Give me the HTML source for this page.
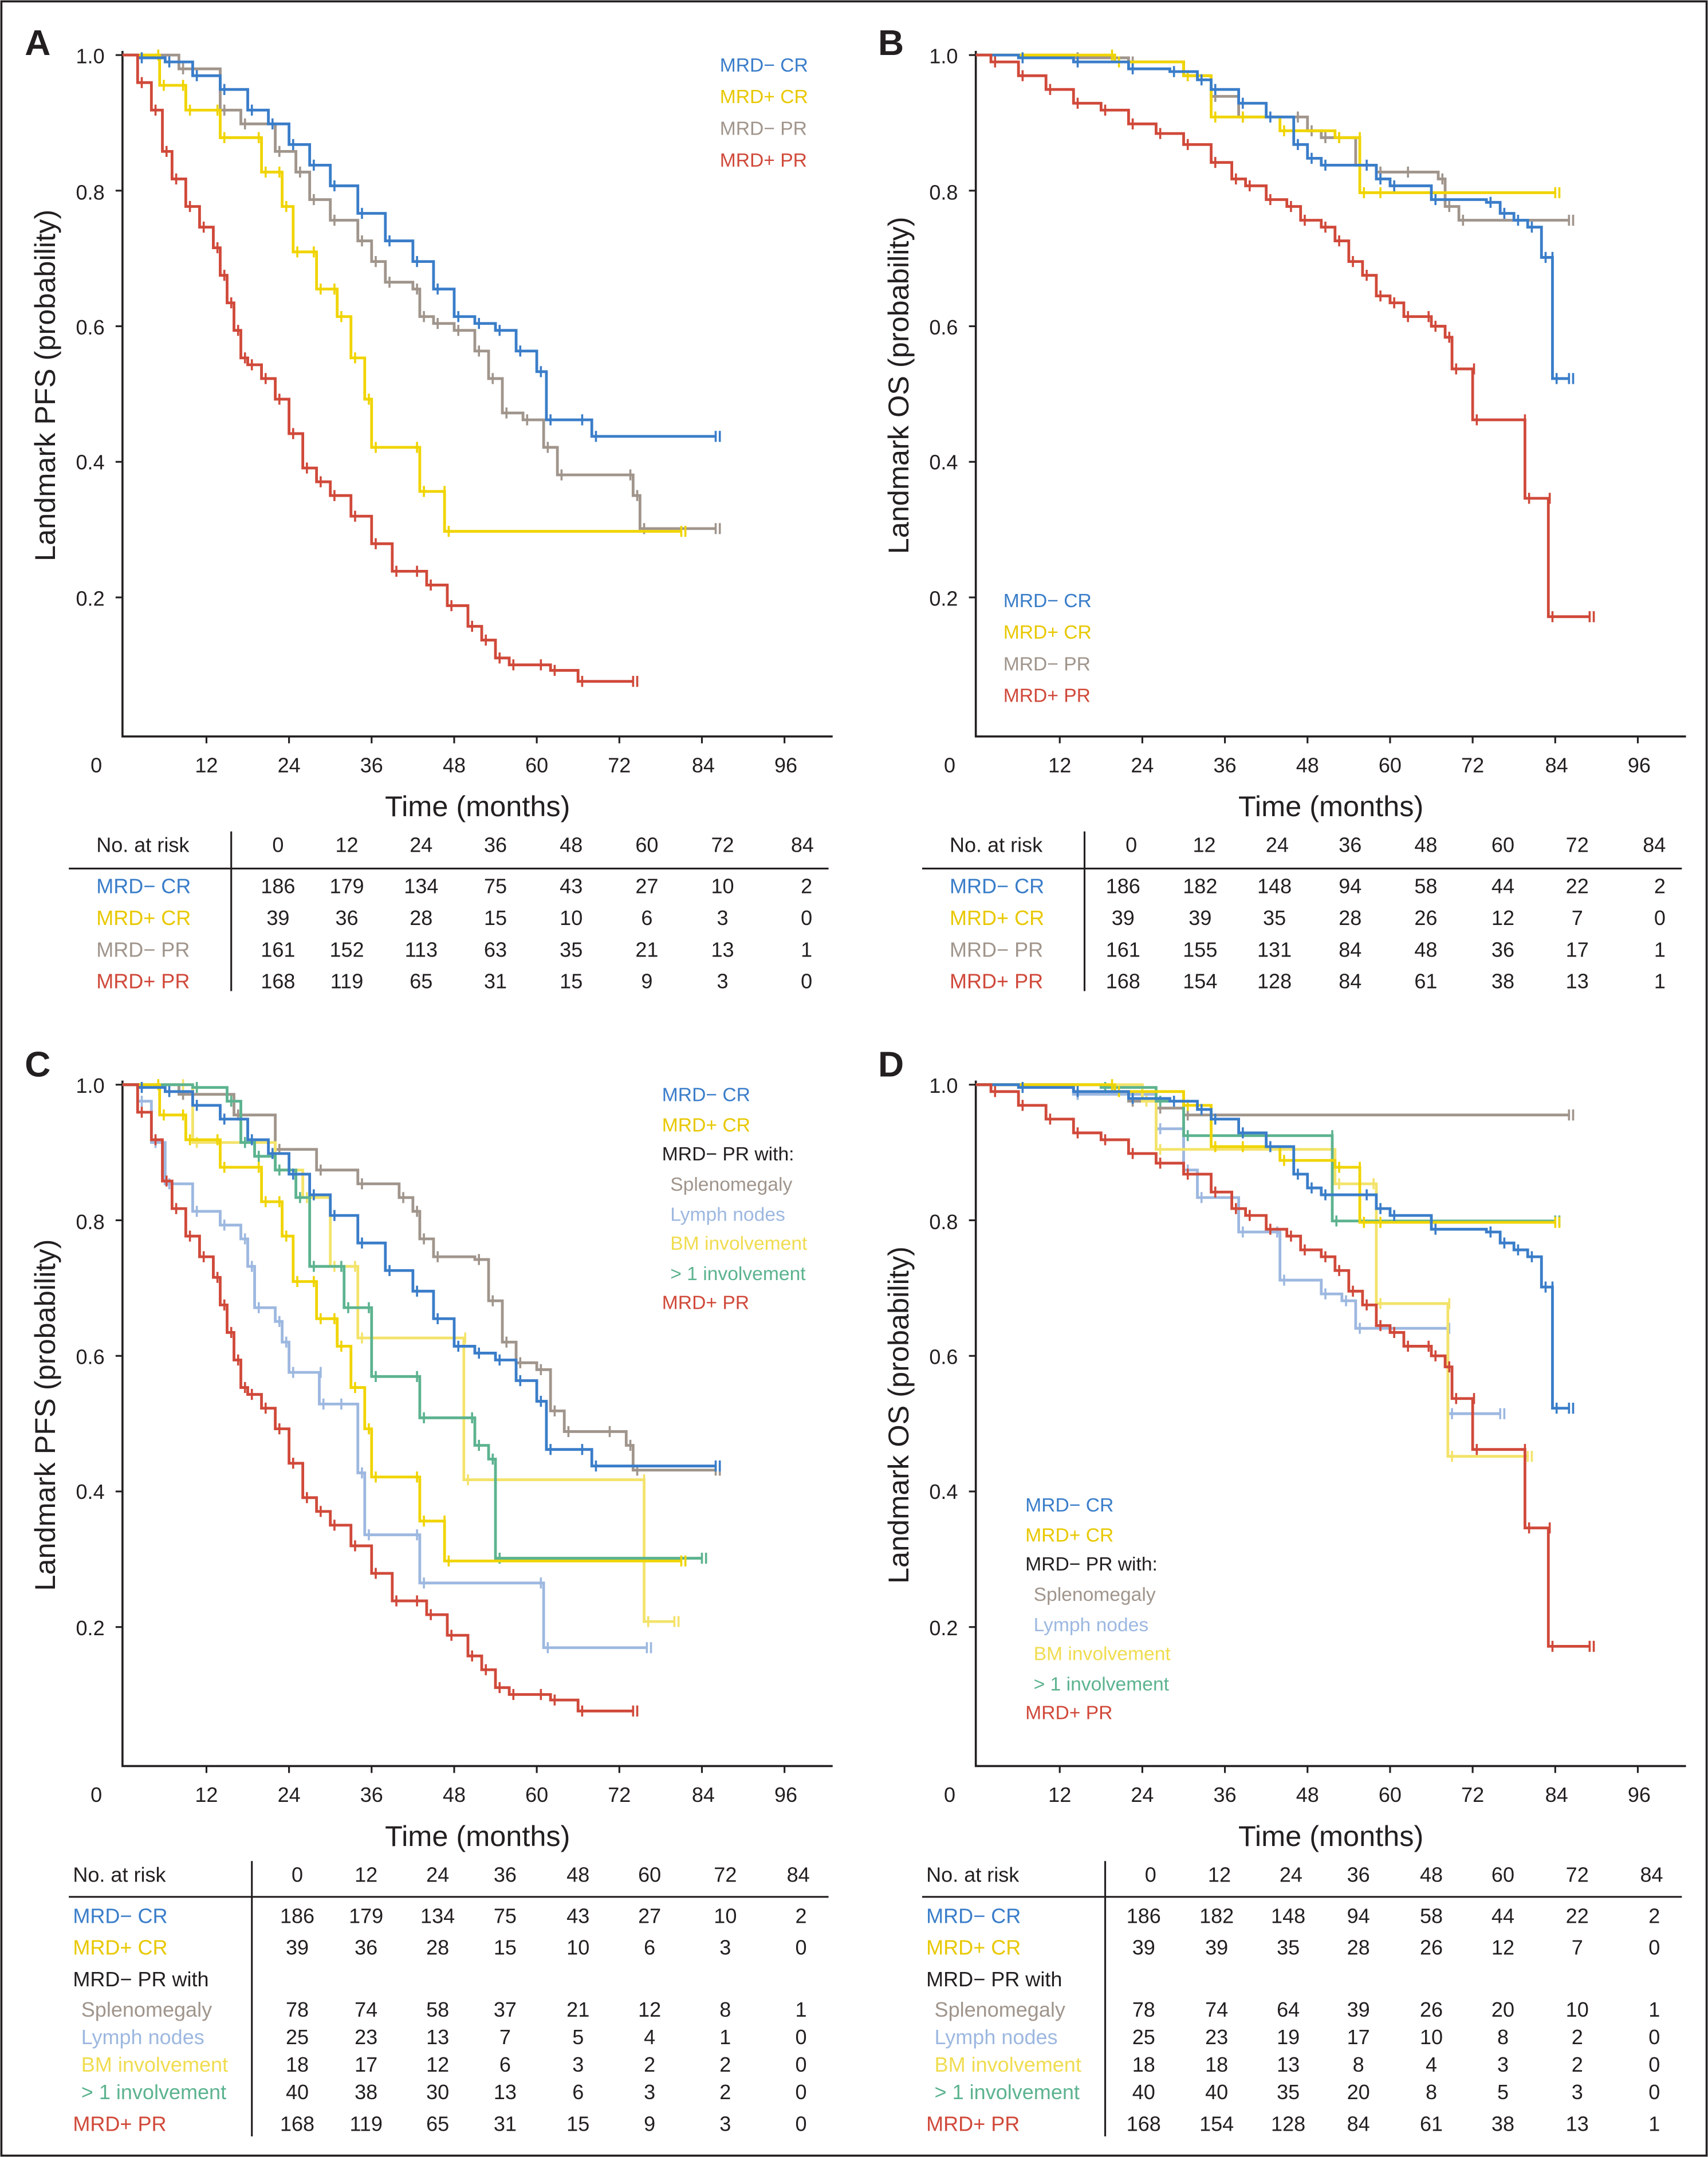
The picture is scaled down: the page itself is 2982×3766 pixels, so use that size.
<!DOCTYPE html>
<html><head><meta charset="utf-8"><style>
html,body{margin:0;padding:0;background:#fff}
svg{display:block}
text{font-family:"Liberation Sans",sans-serif;fill:#231f20}
.t{font-size:15px}
.ax{font-size:21px}
.lg{font-size:14px}
.L{font-size:26px;font-weight:bold}
</style></head><body>
<svg id="s" xmlns="http://www.w3.org/2000/svg" width="2982" height="3766" viewBox="0 0 1241 1567" preserveAspectRatio="none">
<rect x="1" y="1" width="1239" height="1565" fill="#fff" stroke="#231f20" stroke-width="1.5"/>
<g id="axes"></g>
<g id="curves"></g>
<!-- letters -->
<text class="L" x="18" y="40">A</text><text class="L" x="638" y="40">B</text>
<text class="L" x="18" y="782">C</text><text class="L" x="638" y="782">D</text>
<!-- axis titles -->
<text class="ax" transform="translate(40,280) rotate(-90)" text-anchor="middle">Landmark PFS (probability)</text>
<text class="ax" transform="translate(660,280) rotate(-90)" text-anchor="middle">Landmark OS (probability)</text>
<text class="ax" transform="translate(40,1028) rotate(-90)" text-anchor="middle">Landmark PFS (probability)</text>
<text class="ax" transform="translate(660,1028) rotate(-90)" text-anchor="middle">Landmark OS (probability)</text>
<text class="ax" x="347" y="593" text-anchor="middle">Time (months)</text>
<text class="ax" x="967" y="593" text-anchor="middle">Time (months)</text>
<text class="ax" x="347" y="1341" text-anchor="middle">Time (months)</text>
<text class="ax" x="967" y="1341" text-anchor="middle">Time (months)</text>
<!-- legends -->
<g class="lg">
<text class="lg" x="523" y="52" fill="#3a7dc9" style="fill:#3a7dc9">MRD− CR</text>
<text class="lg" x="523" y="75" style="fill:#e8c800">MRD+ CR</text>
<text class="lg" x="523" y="98" style="fill:#a0958c">MRD− PR</text>
<text class="lg" x="523" y="121" style="fill:#d0493a">MRD+ PR</text>
<text class="lg" x="729" y="441" style="fill:#3a7dc9">MRD− CR</text>
<text class="lg" x="729" y="464" style="fill:#e8c800">MRD+ CR</text>
<text class="lg" x="729" y="487" style="fill:#a0958c">MRD− PR</text>
<text class="lg" x="729" y="510" style="fill:#d0493a">MRD+ PR</text>
<text class="lg" x="481" y="800" style="fill:#3a7dc9">MRD− CR</text>
<text class="lg" x="481" y="822" style="fill:#e8c800">MRD+ CR</text>
<text class="lg" x="481" y="843">MRD− PR with:</text>
<text class="lg" x="487" y="865" style="fill:#a0958c">Splenomegaly</text>
<text class="lg" x="487" y="887" style="fill:#9db8e0">Lymph nodes</text>
<text class="lg" x="487" y="908" style="fill:#f0dc50">BM involvement</text>
<text class="lg" x="487" y="930" style="fill:#5cb38f">&gt; 1 involvement</text>
<text class="lg" x="481" y="951" style="fill:#d0493a">MRD+ PR</text>
<text class="lg" x="745" y="1098" style="fill:#3a7dc9">MRD− CR</text>
<text class="lg" x="745" y="1120" style="fill:#e8c800">MRD+ CR</text>
<text class="lg" x="745" y="1141">MRD− PR with:</text>
<text class="lg" x="751" y="1163" style="fill:#a0958c">Splenomegaly</text>
<text class="lg" x="751" y="1185" style="fill:#9db8e0">Lymph nodes</text>
<text class="lg" x="751" y="1206" style="fill:#f0dc50">BM involvement</text>
<text class="lg" x="751" y="1228" style="fill:#5cb38f">&gt; 1 involvement</text>
<text class="lg" x="745" y="1249" style="fill:#d0493a">MRD+ PR</text>
</g>
<!-- tick labels -->
<g class="t" text-anchor="middle">
<text class="t" x="70" y="561">0</text><text class="t" x="150" y="561">12</text><text class="t" x="210" y="561">24</text><text class="t" x="270" y="561">36</text><text class="t" x="330" y="561">48</text><text class="t" x="390" y="561">60</text><text class="t" x="450" y="561">72</text><text class="t" x="511" y="561">84</text><text class="t" x="571" y="561">96</text>
<text class="t" x="690" y="561">0</text><text class="t" x="770" y="561">12</text><text class="t" x="830" y="561">24</text><text class="t" x="890" y="561">36</text><text class="t" x="950" y="561">48</text><text class="t" x="1010" y="561">60</text><text class="t" x="1070" y="561">72</text><text class="t" x="1131" y="561">84</text><text class="t" x="1191" y="561">96</text>
<text class="t" x="70" y="1309">0</text><text class="t" x="150" y="1309">12</text><text class="t" x="210" y="1309">24</text><text class="t" x="270" y="1309">36</text><text class="t" x="330" y="1309">48</text><text class="t" x="390" y="1309">60</text><text class="t" x="450" y="1309">72</text><text class="t" x="511" y="1309">84</text><text class="t" x="571" y="1309">96</text>
<text class="t" x="690" y="1309">0</text><text class="t" x="770" y="1309">12</text><text class="t" x="830" y="1309">24</text><text class="t" x="890" y="1309">36</text><text class="t" x="950" y="1309">48</text><text class="t" x="1010" y="1309">60</text><text class="t" x="1070" y="1309">72</text><text class="t" x="1131" y="1309">84</text><text class="t" x="1191" y="1309">96</text>
</g>
<g class="t" text-anchor="end">
<text class="t" x="76" y="46">1.0</text><text class="t" x="76" y="145">0.8</text><text class="t" x="76" y="243">0.6</text><text class="t" x="76" y="341">0.4</text><text class="t" x="76" y="440">0.2</text>
<text class="t" x="696" y="46">1.0</text><text class="t" x="696" y="145">0.8</text><text class="t" x="696" y="243">0.6</text><text class="t" x="696" y="341">0.4</text><text class="t" x="696" y="440">0.2</text>
<text class="t" x="76" y="794">1.0</text><text class="t" x="76" y="893">0.8</text><text class="t" x="76" y="991">0.6</text><text class="t" x="76" y="1089">0.4</text><text class="t" x="76" y="1188">0.2</text>
<text class="t" x="696" y="794">1.0</text><text class="t" x="696" y="893">0.8</text><text class="t" x="696" y="991">0.6</text><text class="t" x="696" y="1089">0.4</text><text class="t" x="696" y="1188">0.2</text>
</g>
<!-- risk tables -->
<g stroke="#231f20" stroke-width="1.3">
<line x1="50" y1="631" x2="602" y2="631"/><line x1="168" y1="604" x2="168" y2="720"/>
<line x1="670" y1="631" x2="1222" y2="631"/><line x1="788" y1="604" x2="788" y2="720"/>
<line x1="50" y1="1378" x2="602" y2="1378"/><line x1="183" y1="1352" x2="183" y2="1552"/>
<line x1="670" y1="1378" x2="1222" y2="1378"/><line x1="803" y1="1352" x2="803" y2="1552"/>
</g>
<g class="t">
<text class="t" x="70" y="619">No. at risk</text>
<text class="t" x="70" y="649" style="fill:#3a7dc9">MRD− CR</text>
<text class="t" x="70" y="672" style="fill:#e8c800">MRD+ CR</text>
<text class="t" x="70" y="695" style="fill:#a0958c">MRD− PR</text>
<text class="t" x="70" y="718" style="fill:#d0493a">MRD+ PR</text>
<text class="t" x="690" y="619">No. at risk</text>
<text class="t" x="690" y="649" style="fill:#3a7dc9">MRD− CR</text>
<text class="t" x="690" y="672" style="fill:#e8c800">MRD+ CR</text>
<text class="t" x="690" y="695" style="fill:#a0958c">MRD− PR</text>
<text class="t" x="690" y="718" style="fill:#d0493a">MRD+ PR</text>
<text class="t" x="53" y="1367">No. at risk</text>
<text class="t" x="53" y="1397" style="fill:#3a7dc9">MRD− CR</text>
<text class="t" x="53" y="1420" style="fill:#e8c800">MRD+ CR</text>
<text class="t" x="53" y="1443">MRD− PR with</text>
<text class="t" x="59" y="1465" style="fill:#a0958c">Splenomegaly</text>
<text class="t" x="59" y="1485" style="fill:#9db8e0">Lymph nodes</text>
<text class="t" x="59" y="1505" style="fill:#f0dc50">BM involvement</text>
<text class="t" x="59" y="1525" style="fill:#5cb38f">&gt; 1 involvement</text>
<text class="t" x="53" y="1548" style="fill:#d0493a">MRD+ PR</text>
<text class="t" x="673" y="1367">No. at risk</text>
<text class="t" x="673" y="1397" style="fill:#3a7dc9">MRD− CR</text>
<text class="t" x="673" y="1420" style="fill:#e8c800">MRD+ CR</text>
<text class="t" x="673" y="1443">MRD− PR with</text>
<text class="t" x="679" y="1465" style="fill:#a0958c">Splenomegaly</text>
<text class="t" x="679" y="1485" style="fill:#9db8e0">Lymph nodes</text>
<text class="t" x="679" y="1505" style="fill:#f0dc50">BM involvement</text>
<text class="t" x="679" y="1525" style="fill:#5cb38f">&gt; 1 involvement</text>
<text class="t" x="673" y="1548" style="fill:#d0493a">MRD+ PR</text>
</g>
<g class="t" text-anchor="middle">
<!-- A -->
<text class="t" x="202" y="619">0</text><text class="t" x="252" y="619">12</text><text class="t" x="306" y="619">24</text><text class="t" x="360" y="619">36</text><text class="t" x="415" y="619">48</text><text class="t" x="470" y="619">60</text><text class="t" x="525" y="619">72</text><text class="t" x="583" y="619">84</text>
<text class="t" x="202" y="649">186</text><text class="t" x="252" y="649">179</text><text class="t" x="306" y="649">134</text><text class="t" x="360" y="649">75</text><text class="t" x="415" y="649">43</text><text class="t" x="470" y="649">27</text><text class="t" x="525" y="649">10</text><text class="t" x="586" y="649">2</text>
<text class="t" x="202" y="672">39</text><text class="t" x="252" y="672">36</text><text class="t" x="306" y="672">28</text><text class="t" x="360" y="672">15</text><text class="t" x="415" y="672">10</text><text class="t" x="470" y="672">6</text><text class="t" x="525" y="672">3</text><text class="t" x="586" y="672">0</text>
<text class="t" x="202" y="695">161</text><text class="t" x="252" y="695">152</text><text class="t" x="306" y="695">113</text><text class="t" x="360" y="695">63</text><text class="t" x="415" y="695">35</text><text class="t" x="470" y="695">21</text><text class="t" x="525" y="695">13</text><text class="t" x="586" y="695">1</text>
<text class="t" x="202" y="718">168</text><text class="t" x="252" y="718">119</text><text class="t" x="306" y="718">65</text><text class="t" x="360" y="718">31</text><text class="t" x="415" y="718">15</text><text class="t" x="470" y="718">9</text><text class="t" x="525" y="718">3</text><text class="t" x="586" y="718">0</text>
<!-- B -->
<text class="t" x="822" y="619">0</text><text class="t" x="875" y="619">12</text><text class="t" x="928" y="619">24</text><text class="t" x="981" y="619">36</text><text class="t" x="1036" y="619">48</text><text class="t" x="1092" y="619">60</text><text class="t" x="1146" y="619">72</text><text class="t" x="1202" y="619">84</text>
<text class="t" x="816" y="649">186</text><text class="t" x="872" y="649">182</text><text class="t" x="926" y="649">148</text><text class="t" x="981" y="649">94</text><text class="t" x="1036" y="649">58</text><text class="t" x="1092" y="649">44</text><text class="t" x="1146" y="649">22</text><text class="t" x="1206" y="649">2</text>
<text class="t" x="816" y="672">39</text><text class="t" x="872" y="672">39</text><text class="t" x="926" y="672">35</text><text class="t" x="981" y="672">28</text><text class="t" x="1036" y="672">26</text><text class="t" x="1092" y="672">12</text><text class="t" x="1146" y="672">7</text><text class="t" x="1206" y="672">0</text>
<text class="t" x="816" y="695">161</text><text class="t" x="872" y="695">155</text><text class="t" x="926" y="695">131</text><text class="t" x="981" y="695">84</text><text class="t" x="1036" y="695">48</text><text class="t" x="1092" y="695">36</text><text class="t" x="1146" y="695">17</text><text class="t" x="1206" y="695">1</text>
<text class="t" x="816" y="718">168</text><text class="t" x="872" y="718">154</text><text class="t" x="926" y="718">128</text><text class="t" x="981" y="718">84</text><text class="t" x="1036" y="718">61</text><text class="t" x="1092" y="718">38</text><text class="t" x="1146" y="718">13</text><text class="t" x="1206" y="718">1</text>
<!-- C -->
<text class="t" x="216" y="1367">0</text><text class="t" x="266" y="1367">12</text><text class="t" x="318" y="1367">24</text><text class="t" x="367" y="1367">36</text><text class="t" x="420" y="1367">48</text><text class="t" x="472" y="1367">60</text><text class="t" x="527" y="1367">72</text><text class="t" x="580" y="1367">84</text>
<text class="t" x="216" y="1397">186</text><text class="t" x="266" y="1397">179</text><text class="t" x="318" y="1397">134</text><text class="t" x="367" y="1397">75</text><text class="t" x="420" y="1397">43</text><text class="t" x="472" y="1397">27</text><text class="t" x="527" y="1397">10</text><text class="t" x="582" y="1397">2</text>
<text class="t" x="216" y="1420">39</text><text class="t" x="266" y="1420">36</text><text class="t" x="318" y="1420">28</text><text class="t" x="367" y="1420">15</text><text class="t" x="420" y="1420">10</text><text class="t" x="472" y="1420">6</text><text class="t" x="527" y="1420">3</text><text class="t" x="582" y="1420">0</text>
<text class="t" x="216" y="1465">78</text><text class="t" x="266" y="1465">74</text><text class="t" x="318" y="1465">58</text><text class="t" x="367" y="1465">37</text><text class="t" x="420" y="1465">21</text><text class="t" x="472" y="1465">12</text><text class="t" x="527" y="1465">8</text><text class="t" x="582" y="1465">1</text>
<text class="t" x="216" y="1485">25</text><text class="t" x="266" y="1485">23</text><text class="t" x="318" y="1485">13</text><text class="t" x="367" y="1485">7</text><text class="t" x="420" y="1485">5</text><text class="t" x="472" y="1485">4</text><text class="t" x="527" y="1485">1</text><text class="t" x="582" y="1485">0</text>
<text class="t" x="216" y="1505">18</text><text class="t" x="266" y="1505">17</text><text class="t" x="318" y="1505">12</text><text class="t" x="367" y="1505">6</text><text class="t" x="420" y="1505">3</text><text class="t" x="472" y="1505">2</text><text class="t" x="527" y="1505">2</text><text class="t" x="582" y="1505">0</text>
<text class="t" x="216" y="1525">40</text><text class="t" x="266" y="1525">38</text><text class="t" x="318" y="1525">30</text><text class="t" x="367" y="1525">13</text><text class="t" x="420" y="1525">6</text><text class="t" x="472" y="1525">3</text><text class="t" x="527" y="1525">2</text><text class="t" x="582" y="1525">0</text>
<text class="t" x="216" y="1548">168</text><text class="t" x="266" y="1548">119</text><text class="t" x="318" y="1548">65</text><text class="t" x="367" y="1548">31</text><text class="t" x="420" y="1548">15</text><text class="t" x="472" y="1548">9</text><text class="t" x="527" y="1548">3</text><text class="t" x="582" y="1548">0</text>
<!-- D -->
<text class="t" x="836" y="1367">0</text><text class="t" x="886" y="1367">12</text><text class="t" x="938" y="1367">24</text><text class="t" x="987" y="1367">36</text><text class="t" x="1040" y="1367">48</text><text class="t" x="1092" y="1367">60</text><text class="t" x="1146" y="1367">72</text><text class="t" x="1200" y="1367">84</text>
<text class="t" x="831" y="1397">186</text><text class="t" x="884" y="1397">182</text><text class="t" x="936" y="1397">148</text><text class="t" x="987" y="1397">94</text><text class="t" x="1040" y="1397">58</text><text class="t" x="1092" y="1397">44</text><text class="t" x="1146" y="1397">22</text><text class="t" x="1202" y="1397">2</text>
<text class="t" x="831" y="1420">39</text><text class="t" x="884" y="1420">39</text><text class="t" x="936" y="1420">35</text><text class="t" x="987" y="1420">28</text><text class="t" x="1040" y="1420">26</text><text class="t" x="1092" y="1420">12</text><text class="t" x="1146" y="1420">7</text><text class="t" x="1202" y="1420">0</text>
<text class="t" x="831" y="1465">78</text><text class="t" x="884" y="1465">74</text><text class="t" x="936" y="1465">64</text><text class="t" x="987" y="1465">39</text><text class="t" x="1040" y="1465">26</text><text class="t" x="1092" y="1465">20</text><text class="t" x="1146" y="1465">10</text><text class="t" x="1202" y="1465">1</text>
<text class="t" x="831" y="1485">25</text><text class="t" x="884" y="1485">23</text><text class="t" x="936" y="1485">19</text><text class="t" x="987" y="1485">17</text><text class="t" x="1040" y="1485">10</text><text class="t" x="1092" y="1485">8</text><text class="t" x="1146" y="1485">2</text><text class="t" x="1202" y="1485">0</text>
<text class="t" x="831" y="1505">18</text><text class="t" x="884" y="1505">18</text><text class="t" x="936" y="1505">13</text><text class="t" x="987" y="1505">8</text><text class="t" x="1040" y="1505">4</text><text class="t" x="1092" y="1505">3</text><text class="t" x="1146" y="1505">2</text><text class="t" x="1202" y="1505">0</text>
<text class="t" x="831" y="1525">40</text><text class="t" x="884" y="1525">40</text><text class="t" x="936" y="1525">35</text><text class="t" x="987" y="1525">20</text><text class="t" x="1040" y="1525">8</text><text class="t" x="1092" y="1525">5</text><text class="t" x="1146" y="1525">3</text><text class="t" x="1202" y="1525">0</text>
<text class="t" x="831" y="1548">168</text><text class="t" x="884" y="1548">154</text><text class="t" x="936" y="1548">128</text><text class="t" x="987" y="1548">84</text><text class="t" x="1040" y="1548">61</text><text class="t" x="1092" y="1548">38</text><text class="t" x="1146" y="1548">13</text><text class="t" x="1202" y="1548">1</text>
</g>
</svg>
<script>
(function(){
var NS="http://www.w3.org/2000/svg";
var ax=document.getElementById('axes'), cv=document.getElementById('curves');
function el(p,tag,a){var e=document.createElementNS(NS,tag);for(var k in a)e.setAttribute(k,a[k]);p.appendChild(e);return e;}
// axes
[[89,40,535],[709,40,535],[89,788,1283],[709,788,1283]].forEach(function(a){
 var x0=a[0],y0=a[1],yb=a[2];
 el(ax,'path',{d:'M'+x0+' '+(y0-3)+'V'+yb+'H'+(x0+516),stroke:'#231f20','stroke-width':1.5,fill:'none'});
 for(var i=0;i<5;i++){var y=y0+i*98.5;el(ax,'line',{x1:x0-5,y1:y,x2:x0,y2:y,stroke:'#231f20','stroke-width':1.3});}
 for(var j=1;j<=8;j++){var x=x0+1+j*60;el(ax,'line',{x1:x,y1:yb,x2:x,y2:yb+5,stroke:'#231f20','stroke-width':1.3});}
});
var C={b:'#3a7dc9',y:'#f0d400',g:'#a0958c',r:'#d0493a',lb:'#9db8e0',ly:'#f3e36a',gr:'#5cb38f'};
function curve(pts,col,dy,dx){dy=dy||0;dx=dx||0;
 var d='M'+(pts[0][0]+dx)+' '+(pts[0][1]+dy);
 for(var i=1;i<pts.length;i++){d+='H'+(pts[i][0]+dx)+'V'+(pts[i][1]+dy);}
 el(cv,'path',{d:d,stroke:col,'stroke-width':2,fill:'none'});
 for(var i=1;i<pts.length;i++){var x=pts[i][0]+dx+3,y=pts[i][1]+dy;
  el(cv,'line',{x1:x,y1:y-4,x2:x,y2:y+4,stroke:col,'stroke-width':1.5});}
 var l=pts[pts.length-1];el(cv,'line',{x1:l[0]+dx,y1:l[1]+dy-4,x2:l[0]+dx,y2:l[1]+dy+4,stroke:col,'stroke-width':1.5});
}
var Ab=[[89,40],[100,42],[120,45],[140,55],[160,65],[180,80],[195,90],[210,105],[225,120],[240,135],[260,155],[280,175],[300,190],[315,210],[330,230],[345,235],[360,240],[375,255],[390,270],[397,305],[420,305],[430,317],[520,317]];
var Ay=[[89,40],[112,40],[116,62],[130,62],[135,80],[155,80],[160,100],[185,100],[190,125],[200,125],[205,150],[213,183],[225,183],[230,210],[240,210],[245,230],[255,260],[265,290],[270,325],[300,325],[305,357],[320,357],[323,386],[495,386]];
var Ag=[[89,40],[130,50],[160,80],[175,90],[200,110],[215,125],[225,145],[240,160],[260,175],[270,190],[280,205],[300,210],[305,230],[315,235],[330,240],[345,255],[355,275],[365,300],[380,305],[395,325],[405,345],[455,345],[460,360],[465,384],[520,384]];
var Ar=[[89,40],[100,60],[110,80],[118,110],[125,130],[135,150],[145,165],[155,180],[160,200],[165,220],[170,240],[175,260],[180,265],[190,275],[200,290],[210,315],[220,340],[230,350],[240,360],[255,375],[270,395],[285,415],[300,415],[310,425],[325,440],[340,455],[350,465],[360,478],[370,483],[390,483],[400,487],[420,495],[460,495]];
var Bb=[[709,40],[740,42],[780,45],[820,50],[850,52],[870,58],[880,65],[900,75],[920,85],[940,105],[950,115],[960,120],[990,120],[1000,130],[1010,135],[1040,145],[1080,147],[1090,155],[1100,160],[1110,165],[1120,187],[1125,187],[1128,275],[1140,275]];
var By=[[709,40],[805,40],[810,45],[860,55],[880,85],[900,85],[930,95],[970,100],[985,100],[988,140],[1000,140],[1130,140]];
var Bg=[[709,40],[780,42],[820,45],[860,55],[880,70],[900,85],[940,85],[950,95],[960,100],[970,100],[985,120],[1000,125],[1020,125],[1045,130],[1050,150],[1060,160],[1140,160]];
var Br=[[709,40],[720,45],[740,55],[760,65],[780,75],[800,80],[820,90],[840,97],[860,105],[880,118],[895,130],[905,135],[920,145],[935,150],[945,160],[960,165],[970,175],[980,190],[990,200],[1000,215],[1010,220],[1020,230],[1035,230],[1040,237],[1050,245],[1055,268],[1068,268],[1070,305],[1105,305],[1108,362],[1123,362],[1125,448],[1155,448]];
curve(Ag,C.g);curve(Ay,C.y);curve(Ab,C.b);curve(Ar,C.r);
curve(Bg,C.g);curve(By,C.y);curve(Bb,C.b);curve(Br,C.r);
// C
curve([[89,788],[130,795],[170,810],[200,835],[230,850],[260,860],[290,870],[300,880],[305,900],[315,913],[345,915],[355,945],[365,975],[375,990],[390,995],[400,1025],[410,1040],[440,1040],[455,1050],[460,1068],[520,1068]],C.g);
curve([[89,788],[100,800],[110,830],[120,860],[140,880],[160,890],[175,900],[180,920],[185,950],[200,960],[205,975],[210,997],[230,997],[232,1020],[245,1020],[260,1070],[265,1115],[300,1115],[305,1150],[390,1150],[395,1197],[470,1197]],C.lb);
curve([[89,788],[130,788],[140,830],[200,850],[220,870],[240,920],[255,920],[260,972],[335,972],[337,1075],[465,1075],[468,1178],[490,1178]],C.ly);
curve([[89,788],[140,790],[165,800],[175,830],[185,840],[200,850],[215,870],[225,920],[245,920],[250,950],[265,950],[270,1000],[300,1000],[305,1030],[340,1030],[345,1050],[355,1060],[360,1132],[510,1132]],C.gr);
curve(Ay,C.y,748);curve(Ab,C.b,748);curve(Ar,C.r,748);
// D
curve([[709,788],[780,795],[820,800],[840,805],[860,810],[1140,810]],C.g);
curve([[709,788],[780,795],[840,820],[860,850],[870,870],[900,895],[925,895],[930,930],[960,940],[975,945],[985,965],[1050,965],[1052,1027],[1090,1027]],C.lb);
curve([[709,788],[830,800],[840,835],[965,835],[970,860],[995,860],[1000,947],[1050,947],[1052,1058],[1110,1058]],C.ly);
curve([[709,788],[800,790],[840,800],[860,825],[965,825],[968,887],[1130,887]],C.gr);
curve(By,C.y,748);curve(Bb,C.b,748);curve(Br,C.r,748);
})();
</script>
</body></html>
